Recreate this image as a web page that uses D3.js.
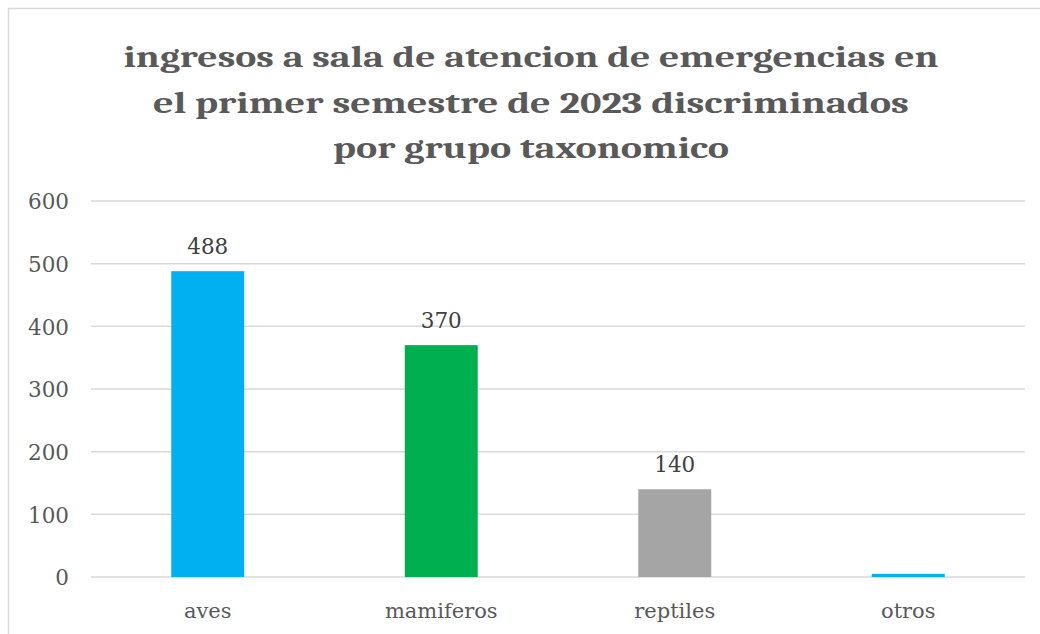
<!DOCTYPE html>
<html><head><meta charset="utf-8">
<script src="https://cdn.jsdelivr.net/npm/d3@7"></script>
<style>body{margin:0;background:#fff}svg{display:block}</style>
</head><body>
<svg id="c" width="1040" height="634"></svg>
<script>
const categories = ["aves", "mamiferos", "reptiles", "otros"];
const values = [488, 370, 140, 5];
const showLabel = [true, true, true, false];
const colors = ["#00B0F0", "#00B050", "#A5A5A5", "#00B0F0"];
const yTicks = [0, 100, 200, 300, 400, 500, 600];
const titleLines = ["ingresos a sala de atencion de emergencias en", "el primer semestre de 2023 discriminados", "por grupo taxonomico"];
const titleWidths = [815, 756, 396];

const svg = d3.select("#c");
const font = "Cambria, 'Liberation Serif', 'DejaVu Serif', serif";
const lblFont = "'DejaVu Serif', serif";
const W = 1040, H = 634;
const m = {left: 91, right: 15, top: 201, bottom: 57};

svg.append("rect").attr("x", 0).attr("y", 0).attr("width", W).attr("height", H).attr("fill", "#fff");
svg.append("path").attr("d", "M8.5,634 V8.5 H1040").attr("fill", "none").attr("stroke", "#D9D9D9").attr("stroke-width", 1.5);

const tg = svg.append("g");
titleLines.forEach((t, i) => {
  tg.append("text").attr("x", 531).attr("y", 67 + i * 45.5)
    .attr("text-anchor", "middle").attr("font-family", font).attr("font-weight", "bold")
    .attr("font-size", 31).attr("fill", "#595959").text(t)
    .attr("textLength", titleWidths[i]).attr("lengthAdjust", "spacingAndGlyphs");
});

const x = d3.scaleBand().domain(categories).range([m.left, W - m.right]).paddingInner(0.6875).paddingOuter(0.34375);
const y = d3.scaleLinear().domain([0, 600]).range([H - m.bottom, m.top]);

svg.append("g").selectAll("line").data(yTicks).join("line")
  .attr("x1", m.left).attr("x2", W - m.right)
  .attr("y1", d => y(d)).attr("y2", d => y(d))
  .attr("stroke", "#D9D9D9").attr("stroke-width", 1.5);

const yAxis = d3.axisLeft(y).tickValues(yTicks).tickSize(0).tickPadding(0);
const ya = svg.append("g").attr("transform", "translate(69,0)").call(yAxis);
ya.select(".domain").remove();
ya.selectAll("text").attr("font-family", lblFont).attr("font-size", 21.5).attr("fill", "#595959").attr("dy", "0.36em");

svg.append("g").selectAll("rect").data(values).join("rect")
  .attr("x", (d, i) => x(categories[i]))
  .attr("width", x.bandwidth())
  .attr("y", d => y(d))
  .attr("height", d => y(0) - y(d))
  .attr("fill", (d, i) => colors[i]);

svg.append("g").selectAll("text").data(values.filter((d, i) => showLabel[i])).join("text")
  .attr("x", (d, i) => x(categories[i]) + x.bandwidth() / 2)
  .attr("y", d => y(d) - 17.5)
  .attr("text-anchor", "middle").attr("font-family", lblFont).attr("font-size", 21.5).attr("fill", "#404040")
  .text(d => d);

const xAxis = d3.axisBottom(x).tickSize(0).tickPadding(0);
const xa = svg.append("g").attr("transform", `translate(0,${y(0)})`).call(xAxis);
xa.select(".domain").remove();
xa.selectAll("text").attr("font-family", lblFont).attr("font-size", 21).attr("fill", "#595959").attr("dy", null).attr("y", 41);
</script>
</body></html>
